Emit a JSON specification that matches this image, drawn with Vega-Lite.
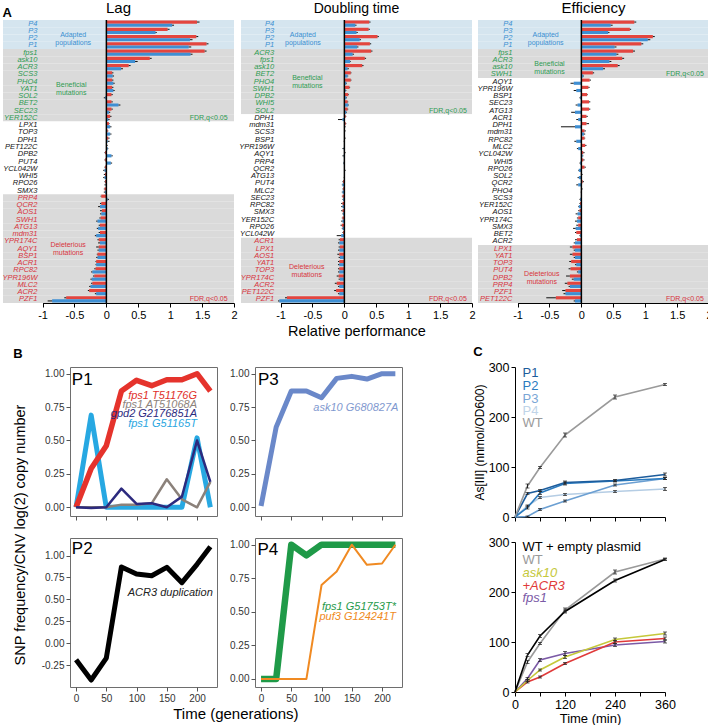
{
"$schema": "https://vega.github.io/schema/vega-lite/v6.json",
"padding": {"left": 2, "top": 1, "right": 0, "bottom": 0},
"background": "white",
"config": {
  "font": "Liberation Sans",
  "view": {"stroke": null},
  "axis": {"grid": false, "tickCount": 20, "labelOverlap": false, "labelColor": "#000", "titleColor": "#000", "domainColor": "#000", "tickColor": "#000", "titleFontWeight": "normal", "labelFont": "Liberation Sans", "titleFont": "Liberation Sans"},
  "title": {"fontWeight": "normal", "color": "#000", "font": "Liberation Sans"},
  "text": {"font": "Liberation Sans"}
},
"datasets": {
"a": [
{"p":"Lag","g":"P4","c":"A","r":1.42,"b":1.03,"er":1.46,"eb":1.06},
{"p":"Lag","g":"P3","c":"A","r":0.96,"b":0.77,"er":0.99,"eb":0.79},
{"p":"Lag","g":"P2","c":"A","r":1.41,"b":1.31,"er":1.44,"eb":1.35},
{"p":"Lag","g":"P1","c":"A","r":1.57,"b":1.29,"er":1.6,"eb":1.33},
{"p":"Lag","g":"fps1","c":"B","r":1.54,"b":1.32,"er":1.57,"eb":1.35},
{"p":"Lag","g":"ask10","c":"B","r":0.68,"b":0.45,"er":0.71,"eb":0.49},
{"p":"Lag","g":"ACR3","c":"B","r":0.35,"b":0.23,"er":0.38,"eb":0.26},
{"p":"Lag","g":"SCS3","c":"B","r":0.09,"b":0.1,"er":0.11,"eb":0.12},
{"p":"Lag","g":"PHO4","c":"B","r":0.09,"b":0.11,"er":0.11,"eb":0.13},
{"p":"Lag","g":"YAT1","c":"B","r":0.09,"b":0.11,"er":0.11,"eb":0.13},
{"p":"Lag","g":"SOL2","c":"B","r":0.08,"b":-0.02,"er":0.1,"eb":-0.04},
{"p":"Lag","g":"BET2","c":"B","r":0.08,"b":0.19,"er":0.1,"eb":0.22},
{"p":"Lag","g":"SEC23","c":"B","r":0.08,"b":0.04,"er":0.1,"eb":0.06},
{"p":"Lag","g":"YER152C","c":"B","r":0.06,"b":0.03,"er":0.08,"eb":0.05},
{"p":"Lag","g":"LPX1","c":"N","r":0.04,"b":0.06,"er":0.05,"eb":0.08},
{"p":"Lag","g":"TOP3","c":"N","r":0.02,"b":0.06,"er":0.03,"eb":0.08},
{"p":"Lag","g":"DPH1","c":"N","r":0.03,"b":0.02,"er":0.05,"eb":0.05},
{"p":"Lag","g":"PET122C","c":"N","r":0.01,"b":0.02,"er":0.02,"eb":0.03},
{"p":"Lag","g":"DPB2","c":"N","r":-0.02,"b":0.08,"er":-0.03,"eb":0.1},
{"p":"Lag","g":"PUT4","c":"N","r":-0.02,"b":0.07,"er":-0.03,"eb":0.09},
{"p":"Lag","g":"YCL042W","c":"N","r":-0.02,"b":-0.03,"er":-0.03,"eb":-0.05},
{"p":"Lag","g":"WHI5","c":"N","r":-0.02,"b":-0.03,"er":-0.04,"eb":-0.05},
{"p":"Lag","g":"RPO26","c":"N","r":-0.02,"b":-0.01,"er":-0.03,"eb":-0.03},
{"p":"Lag","g":"SMX3","c":"N","r":-0.03,"b":-0.02,"er":-0.04,"eb":-0.04},
{"p":"Lag","g":"PRP4","c":"D","r":-0.08,"b":0.02,"er":-0.09,"eb":0.04},
{"p":"Lag","g":"QCR2","c":"D","r":-0.08,"b":-0.1,"er":-0.1,"eb":-0.13},
{"p":"Lag","g":"AOS1","c":"D","r":-0.07,"b":-0.08,"er":-0.1,"eb":-0.1},
{"p":"Lag","g":"SWH1","c":"D","r":-0.09,"b":-0.14,"er":-0.11,"eb":-0.16},
{"p":"Lag","g":"ATG13","c":"D","r":-0.1,"b":-0.13,"er":-0.12,"eb":-0.15},
{"p":"Lag","g":"mdm31","c":"D","r":-0.1,"b":-0.16,"er":-0.12,"eb":-0.18},
{"p":"Lag","g":"YPR174C","c":"D","r":-0.12,"b":-0.1,"er":-0.14,"eb":-0.13},
{"p":"Lag","g":"AQY1","c":"D","r":-0.12,"b":-0.12,"er":-0.16,"eb":-0.14},
{"p":"Lag","g":"BSP1","c":"D","r":-0.14,"b":-0.14,"er":-0.15,"eb":-0.16},
{"p":"Lag","g":"ACR1","c":"D","r":-0.16,"b":-0.16,"er":-0.17,"eb":-0.17},
{"p":"Lag","g":"RPC82","c":"D","r":-0.17,"b":-0.22,"er":-0.19,"eb":-0.24},
{"p":"Lag","g":"YPR196W","c":"D","r":-0.19,"b":-0.23,"er":-0.21,"eb":-0.25},
{"p":"Lag","g":"MLC2","c":"D","r":-0.22,"b":-0.25,"er":-0.24,"eb":-0.27},
{"p":"Lag","g":"ACR2","c":"D","r":-0.27,"b":-0.16,"er":-0.29,"eb":-0.18},
{"p":"Lag","g":"PZF1","c":"D","r":-0.63,"b":-0.85,"er":-0.66,"eb":-0.92},
{"p":"Dbl","g":"P4","c":"A","r":0.39,"b":0.17,"er":0.41,"eb":0.19},
{"p":"Dbl","g":"P3","c":"A","r":0.38,"b":0.19,"er":0.4,"eb":0.21},
{"p":"Dbl","g":"P2","c":"A","r":0.52,"b":0.24,"er":0.54,"eb":0.26},
{"p":"Dbl","g":"P1","c":"A","r":0.4,"b":0.2,"er":0.42,"eb":0.22},
{"p":"Dbl","g":"ACR3","c":"B","r":0.42,"b":0.13,"er":0.44,"eb":0.15},
{"p":"Dbl","g":"fps1","c":"B","r":0.32,"b":0.09,"er":0.34,"eb":0.1},
{"p":"Dbl","g":"ask10","c":"B","r":0.28,"b":0.05,"er":0.3,"eb":0.07},
{"p":"Dbl","g":"BET2","c":"B","r":0.1,"b":0.05,"er":0.11,"eb":0.06},
{"p":"Dbl","g":"PHO4","c":"B","r":0.1,"b":0.03,"er":0.11,"eb":0.04},
{"p":"Dbl","g":"SWH1","c":"B","r":0.08,"b":0.02,"er":0.09,"eb":0.03},
{"p":"Dbl","g":"DPB2","c":"B","r":0.06,"b":0.03,"er":0.07,"eb":0.04},
{"p":"Dbl","g":"WHI5","c":"B","r":0.05,"b":0.06,"er":0.06,"eb":0.07},
{"p":"Dbl","g":"SOL2","c":"B","r":0.05,"b":0.03,"er":0.06,"eb":0.04},
{"p":"Dbl","g":"DPH1","c":"N","r":0.02,"b":-0.03,"er":0.03,"eb":-0.1},
{"p":"Dbl","g":"mdm31","c":"N","r":0.02,"b":0.01,"er":0.03,"eb":0.02},
{"p":"Dbl","g":"SCS3","c":"N","r":0.01,"b":0.0,"er":0.02,"eb":0.01},
{"p":"Dbl","g":"BSP1","c":"N","r":0.01,"b":0.0,"er":0.02,"eb":-0.01},
{"p":"Dbl","g":"YPR196W","c":"N","r":0.0,"b":-0.01,"er":0.01,"eb":-0.03},
{"p":"Dbl","g":"AQY1","c":"N","r":0.01,"b":-0.01,"er":0.02,"eb":-0.03},
{"p":"Dbl","g":"PRP4","c":"N","r":0.0,"b":-0.01,"er":0.01,"eb":-0.02},
{"p":"Dbl","g":"QCR2","c":"N","r":0.0,"b":0.01,"er":0.01,"eb":0.02},
{"p":"Dbl","g":"ATG13","c":"N","r":0.0,"b":0.0,"er":0.01,"eb":-0.01},
{"p":"Dbl","g":"PUT4","c":"N","r":-0.02,"b":-0.03,"er":-0.03,"eb":-0.04},
{"p":"Dbl","g":"MLC2","c":"N","r":-0.02,"b":-0.03,"er":-0.03,"eb":-0.04},
{"p":"Dbl","g":"SEC23","c":"N","r":-0.03,"b":-0.02,"er":-0.04,"eb":-0.03},
{"p":"Dbl","g":"RPC82","c":"N","r":-0.03,"b":-0.03,"er":-0.05,"eb":-0.05},
{"p":"Dbl","g":"SMX3","c":"N","r":-0.03,"b":-0.02,"er":-0.05,"eb":-0.03},
{"p":"Dbl","g":"YER152C","c":"N","r":-0.03,"b":-0.03,"er":-0.04,"eb":-0.05},
{"p":"Dbl","g":"RPO26","c":"N","r":-0.04,"b":-0.03,"er":-0.06,"eb":-0.04},
{"p":"Dbl","g":"YCL042W","c":"N","r":-0.02,"b":-0.05,"er":-0.03,"eb":-0.12},
{"p":"Dbl","g":"ACR1","c":"D","r":-0.07,"b":-0.08,"er":-0.09,"eb":-0.1},
{"p":"Dbl","g":"LPX1","c":"D","r":-0.07,"b":-0.08,"er":-0.09,"eb":-0.1},
{"p":"Dbl","g":"AOS1","c":"D","r":-0.08,"b":-0.07,"er":-0.11,"eb":-0.09},
{"p":"Dbl","g":"YAT1","c":"D","r":-0.08,"b":-0.08,"er":-0.1,"eb":-0.1},
{"p":"Dbl","g":"TOP3","c":"D","r":-0.08,"b":-0.08,"er":-0.1,"eb":-0.1},
{"p":"Dbl","g":"YPR174C","c":"D","r":-0.09,"b":-0.07,"er":-0.12,"eb":-0.09},
{"p":"Dbl","g":"ACR2","c":"D","r":-0.12,"b":-0.08,"er":-0.15,"eb":-0.1},
{"p":"Dbl","g":"PET122C","c":"D","r":-0.13,"b":-0.08,"er":-0.16,"eb":-0.1},
{"p":"Dbl","g":"PZF1","c":"D","r":-0.9,"b":-1.02,"er":-0.93,"eb":-1.04},
{"p":"Eff","g":"P4","c":"A","r":0.83,"b":0.46,"er":0.86,"eb":0.49},
{"p":"Eff","g":"P3","c":"A","r":0.76,"b":0.42,"er":0.78,"eb":0.44},
{"p":"Eff","g":"P2","c":"A","r":1.12,"b":1.04,"er":1.15,"eb":1.08},
{"p":"Eff","g":"P1","c":"A","r":0.94,"b":0.52,"er":0.97,"eb":0.55},
{"p":"Eff","g":"fps1","c":"B","r":0.81,"b":0.55,"er":0.84,"eb":0.58},
{"p":"Eff","g":"ACR3","c":"B","r":0.64,"b":0.44,"er":0.67,"eb":0.47},
{"p":"Eff","g":"ask10","c":"B","r":0.57,"b":0.34,"er":0.6,"eb":0.37},
{"p":"Eff","g":"SWH1","c":"B","r":0.18,"b":0.03,"er":0.2,"eb":0.04},
{"p":"Eff","g":"AQY1","c":"N","r":0.13,"b":-0.12,"er":0.15,"eb":-0.17},
{"p":"Eff","g":"YPR196W","c":"N","r":0.11,"b":-0.08,"er":0.13,"eb":-0.12},
{"p":"Eff","g":"BSP1","c":"N","r":0.09,"b":-0.02,"er":0.1,"eb":-0.03},
{"p":"Eff","g":"SEC23","c":"N","r":0.12,"b":-0.06,"er":0.14,"eb":-0.09},
{"p":"Eff","g":"ATG13","c":"N","r":0.12,"b":-0.1,"er":0.14,"eb":-0.16},
{"p":"Eff","g":"ACR1","c":"N","r":0.08,"b":-0.05,"er":0.1,"eb":-0.08},
{"p":"Eff","g":"DPH1","c":"N","r":0.08,"b":-0.1,"er":0.12,"eb":-0.32},
{"p":"Eff","g":"mdm31","c":"N","r":0.05,"b":0.04,"er":0.07,"eb":0.06},
{"p":"Eff","g":"RPC82","c":"N","r":0.05,"b":-0.08,"er":0.06,"eb":-0.11},
{"p":"Eff","g":"MLC2","c":"N","r":0.06,"b":-0.05,"er":0.08,"eb":-0.07},
{"p":"Eff","g":"YCL042W","c":"N","r":0.03,"b":0.02,"er":0.05,"eb":0.03},
{"p":"Eff","g":"WHI5","c":"N","r":0.03,"b":-0.02,"er":0.05,"eb":-0.03},
{"p":"Eff","g":"RPO26","c":"N","r":0.05,"b":-0.04,"er":0.07,"eb":-0.05},
{"p":"Eff","g":"SOL2","c":"N","r":0.01,"b":-0.04,"er":0.02,"eb":-0.06},
{"p":"Eff","g":"QCR2","c":"N","r":0.02,"b":-0.05,"er":0.04,"eb":-0.08},
{"p":"Eff","g":"PHO4","c":"N","r":0.01,"b":0.0,"er":0.02,"eb":-0.01},
{"p":"Eff","g":"SCS3","c":"N","r":0.0,"b":-0.02,"er":0.01,"eb":-0.03},
{"p":"Eff","g":"YER152C","c":"N","r":-0.02,"b":-0.04,"er":-0.03,"eb":-0.05},
{"p":"Eff","g":"AOS1","c":"N","r":-0.03,"b":-0.06,"er":-0.05,"eb":-0.09},
{"p":"Eff","g":"YPR174C","c":"N","r":-0.05,"b":-0.07,"er":-0.07,"eb":-0.1},
{"p":"Eff","g":"SMX3","c":"N","r":-0.05,"b":-0.09,"er":-0.08,"eb":-0.13},
{"p":"Eff","g":"BET2","c":"N","r":-0.08,"b":-0.02,"er":-0.1,"eb":-0.03},
{"p":"Eff","g":"ACR2","c":"N","r":-0.07,"b":-0.1,"er":-0.1,"eb":-0.12},
{"p":"Eff","g":"LPX1","c":"D","r":-0.14,"b":-0.1,"er":-0.18,"eb":-0.12},
{"p":"Eff","g":"YAT1","c":"D","r":-0.14,"b":-0.1,"er":-0.18,"eb":-0.12},
{"p":"Eff","g":"TOP3","c":"D","r":-0.16,"b":-0.08,"er":-0.19,"eb":-0.1},
{"p":"Eff","g":"PUT4","c":"D","r":-0.17,"b":-0.05,"er":-0.2,"eb":-0.07},
{"p":"Eff","g":"DPB2","c":"D","r":-0.18,"b":-0.12,"er":-0.24,"eb":-0.15},
{"p":"Eff","g":"PRP4","c":"D","r":-0.22,"b":-0.18,"er":-0.26,"eb":-0.2},
{"p":"Eff","g":"PZF1","c":"D","r":-0.25,"b":-0.25,"er":-0.3,"eb":-0.28},
{"p":"Eff","g":"PET122C","c":"D","r":-0.4,"b":-0.1,"er":-0.55,"eb":-0.12}
],
"b": [
{"p":"P1","s":"fps1 T51176G","t":0,"v":0},{"p":"P1","s":"fps1 T51176G","t":25,"v":0.29},{"p":"P1","s":"fps1 T51176G","t":50,"v":0.46},{"p":"P1","s":"fps1 T51176G","t":75,"v":0.87},{"p":"P1","s":"fps1 T51176G","t":100,"v":0.95},{"p":"P1","s":"fps1 T51176G","t":125,"v":0.91},{"p":"P1","s":"fps1 T51176G","t":150,"v":0.955},{"p":"P1","s":"fps1 T51176G","t":175,"v":0.955},{"p":"P1","s":"fps1 T51176G","t":200,"v":1.0},{"p":"P1","s":"fps1 T51176G","t":222,"v":0.87},
{"p":"P1","s":"fps1 G51165T","t":0,"v":0},{"p":"P1","s":"fps1 G51165T","t":25,"v":0.69},{"p":"P1","s":"fps1 G51165T","t":50,"v":0},{"p":"P1","s":"fps1 G51165T","t":75,"v":0},{"p":"P1","s":"fps1 G51165T","t":100,"v":0},{"p":"P1","s":"fps1 G51165T","t":125,"v":0},{"p":"P1","s":"fps1 G51165T","t":150,"v":0},{"p":"P1","s":"fps1 G51165T","t":175,"v":0},{"p":"P1","s":"fps1 G51165T","t":200,"v":0.52},{"p":"P1","s":"fps1 G51165T","t":222,"v":0},
{"p":"P1","s":"fps1 AT51068A","t":0,"v":0},{"p":"P1","s":"fps1 AT51068A","t":25,"v":0},{"p":"P1","s":"fps1 AT51068A","t":50,"v":0},{"p":"P1","s":"fps1 AT51068A","t":75,"v":0.02},{"p":"P1","s":"fps1 AT51068A","t":100,"v":0.02},{"p":"P1","s":"fps1 AT51068A","t":125,"v":0.03},{"p":"P1","s":"fps1 AT51068A","t":150,"v":0.21},{"p":"P1","s":"fps1 AT51068A","t":175,"v":0.06},{"p":"P1","s":"fps1 AT51068A","t":200,"v":0},{"p":"P1","s":"fps1 AT51068A","t":222,"v":0.19},
{"p":"P1","s":"gpd2 G2176851A","t":0,"v":0},{"p":"P1","s":"gpd2 G2176851A","t":25,"v":-0.005},{"p":"P1","s":"gpd2 G2176851A","t":50,"v":0},{"p":"P1","s":"gpd2 G2176851A","t":75,"v":0.14},{"p":"P1","s":"gpd2 G2176851A","t":100,"v":0.025},{"p":"P1","s":"gpd2 G2176851A","t":125,"v":0.03},{"p":"P1","s":"gpd2 G2176851A","t":150,"v":0},{"p":"P1","s":"gpd2 G2176851A","t":175,"v":0.08},{"p":"P1","s":"gpd2 G2176851A","t":200,"v":0.5},{"p":"P1","s":"gpd2 G2176851A","t":222,"v":0.19},
{"p":"P3","s":"ask10 G680827A","t":0,"v":0.01},{"p":"P3","s":"ask10 G680827A","t":25,"v":0.6},{"p":"P3","s":"ask10 G680827A","t":50,"v":0.87},{"p":"P3","s":"ask10 G680827A","t":75,"v":0.87},{"p":"P3","s":"ask10 G680827A","t":100,"v":0.82},{"p":"P3","s":"ask10 G680827A","t":125,"v":0.965},{"p":"P3","s":"ask10 G680827A","t":150,"v":0.98},{"p":"P3","s":"ask10 G680827A","t":175,"v":0.96},{"p":"P3","s":"ask10 G680827A","t":200,"v":1.0},{"p":"P3","s":"ask10 G680827A","t":222,"v":1.0},
{"p":"P2","s":"ACR3 duplication","t":0,"v":-0.19},{"p":"P2","s":"ACR3 duplication","t":25,"v":-0.42},{"p":"P2","s":"ACR3 duplication","t":50,"v":-0.17},{"p":"P2","s":"ACR3 duplication","t":75,"v":0.87},{"p":"P2","s":"ACR3 duplication","t":100,"v":0.79},{"p":"P2","s":"ACR3 duplication","t":125,"v":0.77},{"p":"P2","s":"ACR3 duplication","t":150,"v":0.865},{"p":"P2","s":"ACR3 duplication","t":175,"v":0.69},{"p":"P2","s":"ACR3 duplication","t":200,"v":0.9},{"p":"P2","s":"ACR3 duplication","t":222,"v":1.1},
{"p":"P4","s":"fps1 G51753T*","t":0,"v":0},{"p":"P4","s":"fps1 G51753T*","t":25,"v":0},{"p":"P4","s":"fps1 G51753T*","t":50,"v":1.0},{"p":"P4","s":"fps1 G51753T*","t":75,"v":0.92},{"p":"P4","s":"fps1 G51753T*","t":100,"v":1.0},{"p":"P4","s":"fps1 G51753T*","t":125,"v":1.0},{"p":"P4","s":"fps1 G51753T*","t":150,"v":1.0},{"p":"P4","s":"fps1 G51753T*","t":175,"v":1.0},{"p":"P4","s":"fps1 G51753T*","t":200,"v":1.0},{"p":"P4","s":"fps1 G51753T*","t":222,"v":1.0},
{"p":"P4","s":"puf3 G124241T","t":0,"v":0},{"p":"P4","s":"puf3 G124241T","t":25,"v":0},{"p":"P4","s":"puf3 G124241T","t":50,"v":0},{"p":"P4","s":"puf3 G124241T","t":75,"v":0},{"p":"P4","s":"puf3 G124241T","t":100,"v":0.7},{"p":"P4","s":"puf3 G124241T","t":125,"v":0.8},{"p":"P4","s":"puf3 G124241T","t":150,"v":1.0},{"p":"P4","s":"puf3 G124241T","t":175,"v":0.85},{"p":"P4","s":"puf3 G124241T","t":200,"v":0.86},{"p":"P4","s":"puf3 G124241T","t":222,"v":1.0}
],
"c": [
{"p":"C1","s":"WT","t":0,"v":0,"e":0},{"p":"C1","s":"WT","t":30,"v":62,"e":4},{"p":"C1","s":"WT","t":60,"v":99,"e":2},{"p":"C1","s":"WT","t":120,"v":164,"e":4},{"p":"C1","s":"WT","t":240,"v":240,"e":4},{"p":"C1","s":"WT","t":360,"v":265,"e":2},
{"p":"C1","s":"P1","t":0,"v":0,"e":0},{"p":"C1","s":"P1","t":30,"v":47,"e":2},{"p":"C1","s":"P1","t":60,"v":53,"e":2},{"p":"C1","s":"P1","t":120,"v":69,"e":3},{"p":"C1","s":"P1","t":240,"v":73,"e":2},{"p":"C1","s":"P1","t":360,"v":85,"e":3},
{"p":"C1","s":"P2","t":0,"v":0,"e":0},{"p":"C1","s":"P2","t":30,"v":19,"e":3},{"p":"C1","s":"P2","t":60,"v":48,"e":3},{"p":"C1","s":"P2","t":120,"v":67,"e":3},{"p":"C1","s":"P2","t":240,"v":72,"e":2},{"p":"C1","s":"P2","t":360,"v":77,"e":2},
{"p":"C1","s":"P3","t":0,"v":0,"e":0},{"p":"C1","s":"P3","t":30,"v":1,"e":1},{"p":"C1","s":"P3","t":60,"v":15,"e":2},{"p":"C1","s":"P3","t":120,"v":32,"e":2},{"p":"C1","s":"P3","t":240,"v":64,"e":2},{"p":"C1","s":"P3","t":360,"v":77,"e":2},
{"p":"C1","s":"P4","t":0,"v":0,"e":0},{"p":"C1","s":"P4","t":30,"v":22,"e":2},{"p":"C1","s":"P4","t":60,"v":39,"e":2},{"p":"C1","s":"P4","t":120,"v":45,"e":2},{"p":"C1","s":"P4","t":240,"v":51,"e":2},{"p":"C1","s":"P4","t":360,"v":56,"e":3},
{"p":"C2","s":"WT + empty plasmid","t":0,"v":0,"e":0},{"p":"C2","s":"WT + empty plasmid","t":30,"v":74,"e":3},{"p":"C2","s":"WT + empty plasmid","t":60,"v":112,"e":3},{"p":"C2","s":"WT + empty plasmid","t":120,"v":161,"e":3},{"p":"C2","s":"WT + empty plasmid","t":240,"v":223,"e":3},{"p":"C2","s":"WT + empty plasmid","t":360,"v":265,"e":2},
{"p":"C2","s":"WT","t":0,"v":0,"e":0},{"p":"C2","s":"WT","t":30,"v":60,"e":3},{"p":"C2","s":"WT","t":60,"v":97,"e":2},{"p":"C2","s":"WT","t":120,"v":164,"e":4},{"p":"C2","s":"WT","t":240,"v":240,"e":4},{"p":"C2","s":"WT","t":360,"v":266,"e":2},
{"p":"C2","s":"ask10","t":0,"v":0,"e":0},{"p":"C2","s":"ask10","t":30,"v":23,"e":2},{"p":"C2","s":"ask10","t":60,"v":44,"e":2},{"p":"C2","s":"ask10","t":120,"v":70,"e":3},{"p":"C2","s":"ask10","t":240,"v":105,"e":3},{"p":"C2","s":"ask10","t":360,"v":117,"e":3},
{"p":"C2","s":"+ACR3","t":0,"v":0,"e":0},{"p":"C2","s":"+ACR3","t":30,"v":20,"e":2},{"p":"C2","s":"+ACR3","t":60,"v":30,"e":2},{"p":"C2","s":"+ACR3","t":120,"v":57,"e":2},{"p":"C2","s":"+ACR3","t":240,"v":100,"e":3},{"p":"C2","s":"+ACR3","t":360,"v":107,"e":3},
{"p":"C2","s":"fps1","t":0,"v":0,"e":0},{"p":"C2","s":"fps1","t":30,"v":27,"e":2},{"p":"C2","s":"fps1","t":60,"v":64,"e":3},{"p":"C2","s":"fps1","t":120,"v":77,"e":4},{"p":"C2","s":"fps1","t":240,"v":94,"e":3},{"p":"C2","s":"fps1","t":360,"v":101,"e":3}
]
},
"spacing": 8,
"vconcat": [
{
 "title": {"text": "A", "anchor": "start", "fontSize": 13, "fontWeight": "bold", "offset": -19},
 "spacing": 1,
 "hconcat": [
  {
   "width": 231, "height": 283,
   "title": {"text": "Lag", "fontSize": 15, "offset": 3},
   "data": {"name": "a"},
   "transform": [{"filter": "datum.p=='Lag'"}],
   "layer": [
    {"mark": {"type": "rect"}, "encoding": {
      "y": {"field": "g", "type": "nominal", "sort": null, "axis": null, "scale": {"paddingInner": 0, "paddingOuter": 0}},
      "x": {"datum": -1.62},
      "x2": {"datum": 2},
      "fill": {"field": "c", "type": "nominal", "scale": {"domain": ["A", "B", "N", "D"], "range": ["#d5e5ef", "#dadada", "#ffffff", "#dadada"]}, "legend": null}}},
    {"mark": {"type": "bar", "color": "#e3453f"}, "encoding": {
      "y": {"field": "g", "type": "nominal", "sort": null, "axis": null, "scale": {"paddingInner": 0, "paddingOuter": 0}},
      "yOffset": {"datum": "r", "scale": {"domain": ["r", "b"], "paddingInner": 0, "paddingOuter": 0.15}},
      "x": {"field": "r", "type": "quantitative", "scale": {"domain": [-1.62, 2], "nice": false, "zero": false}, "axis": {"values": [-1, -0.5, 0, 0.5, 1, 1.5, 2], "tickCount": 20, "labelExpr": "'' + datum.value", "labelFontSize": 11, "labelFlush": false, "labelOverlap": false, "tickSize": 4, "labelPadding": 2, "domainDash": [0, 39.6, 400, 0], "title": null}}}},
    {"mark": {"type": "bar", "color": "#3f8fd3"}, "encoding": {
      "y": {"field": "g", "type": "nominal", "sort": null, "axis": null, "scale": {"paddingInner": 0, "paddingOuter": 0}},
      "yOffset": {"datum": "b", "scale": {"domain": ["r", "b"], "paddingInner": 0, "paddingOuter": 0.15}},
      "x": {"field": "b", "type": "quantitative"}}},
    {"mark": {"type": "rule", "color": "#111", "strokeWidth": 1}, "encoding": {
      "y": {"field": "g", "type": "nominal", "sort": null, "axis": null, "scale": {"paddingInner": 0, "paddingOuter": 0}},
      "yOffset": {"datum": "r", "scale": {"domain": ["r", "b"], "paddingInner": 0, "paddingOuter": 0.15}},
      "x": {"field": "r", "type": "quantitative"}, "x2": {"field": "er"}}},
    {"mark": {"type": "rule", "color": "#111", "strokeWidth": 1}, "encoding": {
      "y": {"field": "g", "type": "nominal", "sort": null, "axis": null, "scale": {"paddingInner": 0, "paddingOuter": 0}},
      "yOffset": {"datum": "b", "scale": {"domain": ["r", "b"], "paddingInner": 0, "paddingOuter": 0.15}},
      "x": {"field": "b", "type": "quantitative"}, "x2": {"field": "eb"}}},
    {"data": {"values": [{"p": "Lag"}]}, "mark": {"type": "rule", "color": "#000", "strokeWidth": 1.5}, "encoding": {"x": {"datum": 0}}},
    {"mark": {"type": "text", "align": "right", "baseline": "middle", "fontStyle": "italic", "fontSize": 7.5}, "encoding": {
      "y": {"field": "g", "type": "nominal", "sort": null, "axis": null, "scale": {"paddingInner": 0, "paddingOuter": 0}},
      "x": {"datum": -1.08}, "text": {"field": "g"},
      "color": {"field": "c", "type": "nominal", "scale": {"domain": ["A", "B", "N", "D"], "range": ["#3a8fd1", "#2e9a52", "#111111", "#d8343d"]}, "legend": null}}},
    {"data": {"values": [{"p": "Lag"}]}, "mark": {"type": "text", "align": "center", "baseline": "middle", "fontSize": 7, "lineHeight": 8, "color": "#3a8fd1"}, "encoding": {"x": {"datum": -0.52}, "y": {"datum": "P3", "bandPosition": 1, "axis": null}, "text": {"value": ["Adapted", "populations"]}}},
    {"data": {"values": [{"p": "Lag"}]}, "mark": {"type": "text", "align": "center", "baseline": "middle", "fontSize": 7, "lineHeight": 8, "color": "#2e9a52"}, "encoding": {"x": {"datum": -0.55}, "y": {"datum": "PHO4", "bandPosition": 1, "axis": null}, "text": {"value": ["Beneficial", "mutations"]}}},
    {"data": {"values": [{"p": "Lag"}]}, "mark": {"type": "text", "align": "right", "baseline": "middle", "fontSize": 7, "color": "#2e9a52"}, "encoding": {"x": {"datum": 1.9}, "y": {"datum": "YER152C", "axis": null}, "text": {"value": "FDR,q<0.05"}}},
    {"data": {"values": [{"p": "Lag"}]}, "mark": {"type": "text", "align": "center", "baseline": "middle", "fontSize": 7, "lineHeight": 8, "color": "#d8343d"}, "encoding": {"x": {"datum": -0.6}, "y": {"datum": "YPR174C", "bandPosition": 1, "axis": null}, "text": {"value": ["Deleterious", "mutations"]}}},
    {"data": {"values": [{"p": "Lag"}]}, "mark": {"type": "text", "align": "right", "baseline": "middle", "fontSize": 7, "color": "#d8343d"}, "encoding": {"x": {"datum": 1.9}, "y": {"datum": "PZF1", "axis": null}, "text": {"value": "FDR,q<0.05"}}}
   ]
  },
  {
   "width": 231, "height": 283,
   "title": {"text": "Doubling time", "fontSize": 14, "offset": 3},
   "data": {"name": "a"},
   "transform": [{"filter": "datum.p=='Dbl'"}],
   "layer": [
    {"mark": {"type": "rect"}, "encoding": {
      "y": {"field": "g", "type": "nominal", "sort": null, "axis": null, "scale": {"paddingInner": 0, "paddingOuter": 0}},
      "x": {"datum": -1.62},
      "x2": {"datum": 2},
      "fill": {"field": "c", "type": "nominal", "scale": {"domain": ["A", "B", "N", "D"], "range": ["#d5e5ef", "#dadada", "#ffffff", "#dadada"]}, "legend": null}}},
    {"mark": {"type": "bar", "color": "#e3453f"}, "encoding": {
      "y": {"field": "g", "type": "nominal", "sort": null, "axis": null, "scale": {"paddingInner": 0, "paddingOuter": 0}},
      "yOffset": {"datum": "r", "scale": {"domain": ["r", "b"], "paddingInner": 0, "paddingOuter": 0.15}},
      "x": {"field": "r", "type": "quantitative", "scale": {"domain": [-1.62, 2], "nice": false, "zero": false}, "axis": {"values": [-1, -0.5, 0, 0.5, 1, 1.5, 2], "tickCount": 20, "labelExpr": "'' + datum.value", "labelFontSize": 11, "labelFlush": false, "labelOverlap": false, "tickSize": 4, "labelPadding": 2, "domainDash": [0, 39.6, 400, 0], "title": "Relative performance", "titleFontSize": 14.5, "titlePadding": 4}}}},
    {"mark": {"type": "bar", "color": "#3f8fd3"}, "encoding": {
      "y": {"field": "g", "type": "nominal", "sort": null, "axis": null, "scale": {"paddingInner": 0, "paddingOuter": 0}},
      "yOffset": {"datum": "b", "scale": {"domain": ["r", "b"], "paddingInner": 0, "paddingOuter": 0.15}},
      "x": {"field": "b", "type": "quantitative"}}},
    {"mark": {"type": "rule", "color": "#111", "strokeWidth": 1}, "encoding": {
      "y": {"field": "g", "type": "nominal", "sort": null, "axis": null, "scale": {"paddingInner": 0, "paddingOuter": 0}},
      "yOffset": {"datum": "r", "scale": {"domain": ["r", "b"], "paddingInner": 0, "paddingOuter": 0.15}},
      "x": {"field": "r", "type": "quantitative"}, "x2": {"field": "er"}}},
    {"mark": {"type": "rule", "color": "#111", "strokeWidth": 1}, "encoding": {
      "y": {"field": "g", "type": "nominal", "sort": null, "axis": null, "scale": {"paddingInner": 0, "paddingOuter": 0}},
      "yOffset": {"datum": "b", "scale": {"domain": ["r", "b"], "paddingInner": 0, "paddingOuter": 0.15}},
      "x": {"field": "b", "type": "quantitative"}, "x2": {"field": "eb"}}},
    {"data": {"values": [{"p": "Dbl"}]}, "mark": {"type": "rule", "color": "#000", "strokeWidth": 1.5}, "encoding": {"x": {"datum": 0}}},
    {"mark": {"type": "text", "align": "right", "baseline": "middle", "fontStyle": "italic", "fontSize": 7.5}, "encoding": {
      "y": {"field": "g", "type": "nominal", "sort": null, "axis": null, "scale": {"paddingInner": 0, "paddingOuter": 0}},
      "x": {"datum": -1.1}, "text": {"field": "g"},
      "color": {"field": "c", "type": "nominal", "scale": {"domain": ["A", "B", "N", "D"], "range": ["#3a8fd1", "#2e9a52", "#111111", "#d8343d"]}, "legend": null}}},
    {"data": {"values": [{"p": "Dbl"}]}, "mark": {"type": "text", "align": "center", "baseline": "middle", "fontSize": 7, "lineHeight": 8, "color": "#3a8fd1"}, "encoding": {"x": {"datum": -0.65}, "y": {"datum": "P3", "bandPosition": 1, "axis": null}, "text": {"value": ["Adapted", "populations"]}}},
    {"data": {"values": [{"p": "Dbl"}]}, "mark": {"type": "text", "align": "center", "baseline": "middle", "fontSize": 7, "lineHeight": 8, "color": "#2e9a52"}, "encoding": {"x": {"datum": -0.58}, "y": {"datum": "BET2", "bandPosition": 1, "axis": null}, "text": {"value": ["Beneficial", "mutations"]}}},
    {"data": {"values": [{"p": "Dbl"}]}, "mark": {"type": "text", "align": "right", "baseline": "middle", "fontSize": 7, "color": "#2e9a52"}, "encoding": {"x": {"datum": 1.92}, "y": {"datum": "SOL2", "axis": null}, "text": {"value": "FDR,q<0.05"}}},
    {"data": {"values": [{"p": "Dbl"}]}, "mark": {"type": "text", "align": "center", "baseline": "middle", "fontSize": 7, "lineHeight": 8, "color": "#d8343d"}, "encoding": {"x": {"datum": -0.59}, "y": {"datum": "YAT1", "bandPosition": 1, "axis": null}, "text": {"value": ["Deleterious", "mutations"]}}},
    {"data": {"values": [{"p": "Dbl"}]}, "mark": {"type": "text", "align": "right", "baseline": "middle", "fontSize": 7, "color": "#d8343d"}, "encoding": {"x": {"datum": 1.92}, "y": {"datum": "PZF1", "axis": null}, "text": {"value": "FDR,q<0.05"}}}
   ]
  },
  {
   "width": 231, "height": 283,
   "title": {"text": "Efficiency", "fontSize": 15, "offset": 3},
   "data": {"name": "a"},
   "transform": [{"filter": "datum.p=='Eff'"}],
   "layer": [
    {"mark": {"type": "rect"}, "encoding": {
      "y": {"field": "g", "type": "nominal", "sort": null, "axis": null, "scale": {"paddingInner": 0, "paddingOuter": 0}},
      "x": {"datum": -1.62},
      "x2": {"datum": 2},
      "fill": {"field": "c", "type": "nominal", "scale": {"domain": ["A", "B", "N", "D"], "range": ["#d5e5ef", "#dadada", "#ffffff", "#dadada"]}, "legend": null}}},
    {"mark": {"type": "bar", "color": "#e3453f"}, "encoding": {
      "y": {"field": "g", "type": "nominal", "sort": null, "axis": null, "scale": {"paddingInner": 0, "paddingOuter": 0}},
      "yOffset": {"datum": "r", "scale": {"domain": ["r", "b"], "paddingInner": 0, "paddingOuter": 0.15}},
      "x": {"field": "r", "type": "quantitative", "scale": {"domain": [-1.62, 2], "nice": false, "zero": false}, "axis": {"values": [-1, -0.5, 0, 0.5, 1, 1.5, 2], "tickCount": 20, "labelExpr": "'' + datum.value", "labelFontSize": 11, "labelFlush": false, "labelOverlap": false, "tickSize": 4, "labelPadding": 2, "domainDash": [0, 39.6, 400, 0], "title": null}}}},
    {"mark": {"type": "bar", "color": "#3f8fd3"}, "encoding": {
      "y": {"field": "g", "type": "nominal", "sort": null, "axis": null, "scale": {"paddingInner": 0, "paddingOuter": 0}},
      "yOffset": {"datum": "b", "scale": {"domain": ["r", "b"], "paddingInner": 0, "paddingOuter": 0.15}},
      "x": {"field": "b", "type": "quantitative"}}},
    {"mark": {"type": "rule", "color": "#111", "strokeWidth": 1}, "encoding": {
      "y": {"field": "g", "type": "nominal", "sort": null, "axis": null, "scale": {"paddingInner": 0, "paddingOuter": 0}},
      "yOffset": {"datum": "r", "scale": {"domain": ["r", "b"], "paddingInner": 0, "paddingOuter": 0.15}},
      "x": {"field": "r", "type": "quantitative"}, "x2": {"field": "er"}}},
    {"mark": {"type": "rule", "color": "#111", "strokeWidth": 1}, "encoding": {
      "y": {"field": "g", "type": "nominal", "sort": null, "axis": null, "scale": {"paddingInner": 0, "paddingOuter": 0}},
      "yOffset": {"datum": "b", "scale": {"domain": ["r", "b"], "paddingInner": 0, "paddingOuter": 0.15}},
      "x": {"field": "b", "type": "quantitative"}, "x2": {"field": "eb"}}},
    {"data": {"values": [{"p": "Eff"}]}, "mark": {"type": "rule", "color": "#000", "strokeWidth": 1.5}, "encoding": {"x": {"datum": 0}}},
    {"mark": {"type": "text", "align": "right", "baseline": "middle", "fontStyle": "italic", "fontSize": 7.5}, "encoding": {
      "y": {"field": "g", "type": "nominal", "sort": null, "axis": null, "scale": {"paddingInner": 0, "paddingOuter": 0}},
      "x": {"datum": -1.08}, "text": {"field": "g"},
      "color": {"field": "c", "type": "nominal", "scale": {"domain": ["A", "B", "N", "D"], "range": ["#3a8fd1", "#2e9a52", "#111111", "#d8343d"]}, "legend": null}}},
    {"data": {"values": [{"p": "Eff"}]}, "mark": {"type": "text", "align": "center", "baseline": "middle", "fontSize": 7, "lineHeight": 8, "color": "#3a8fd1"}, "encoding": {"x": {"datum": -0.56}, "y": {"datum": "P3", "bandPosition": 1, "axis": null}, "text": {"value": ["Adapted", "populations"]}}},
    {"data": {"values": [{"p": "Eff"}]}, "mark": {"type": "text", "align": "center", "baseline": "middle", "fontSize": 7, "lineHeight": 8, "color": "#2e9a52"}, "encoding": {"x": {"datum": -0.5}, "y": {"datum": "ACR3", "bandPosition": 1, "axis": null}, "text": {"value": ["Beneficial", "mutations"]}}},
    {"data": {"values": [{"p": "Eff"}]}, "mark": {"type": "text", "align": "right", "baseline": "middle", "fontSize": 7, "color": "#2e9a52"}, "encoding": {"x": {"datum": 1.92}, "y": {"datum": "SWH1", "axis": null}, "text": {"value": "FDR,q<0.05"}}},
    {"data": {"values": [{"p": "Eff"}]}, "mark": {"type": "text", "align": "center", "baseline": "middle", "fontSize": 7, "lineHeight": 8, "color": "#d8343d"}, "encoding": {"x": {"datum": -0.62}, "y": {"datum": "PUT4", "bandPosition": 1, "axis": null}, "text": {"value": ["Deleterious", "mutations"]}}},
    {"data": {"values": [{"p": "Eff"}]}, "mark": {"type": "text", "align": "right", "baseline": "middle", "fontSize": 7, "color": "#d8343d"}, "encoding": {"x": {"datum": 1.92}, "y": {"datum": "PET122C", "axis": null}, "text": {"value": "FDR,q<0.05"}}}
   ]
  }
 ]
},
{
 "spacing": 9,
 "hconcat": [
  {"width": 1, "height": 1, "data": {"values": [{}]}, "mark": {"type": "text"}, "encoding": {"text": {"value": ""}}},
  {
   "spacing": 70,
   "hconcat": [
    {
     "title": {"text": "B", "anchor": "start", "fontSize": 13, "fontWeight": "bold", "offset": 6},
     "vconcat": [
      {
       "title": {"text": "Time (generations)", "orient": "bottom", "anchor": "middle", "frame": "bounds", "dx": 28, "fontSize": 15, "offset": 3},
       "vconcat": [
        {
         "title": {"text": "SNP frequency/CNV log(2) copy number", "orient": "left", "anchor": "middle", "fontSize": 14.5, "offset": 12},
         "columns": 2,
         "spacing": {"row": 16, "column": 11},
         "concat": [
          {
           "width": 147, "height": 149,
           "view": {"stroke": "#6e6e6e"},
           "data": {"name": "b"},
           "layer": [
            {"transform": [{"filter": "datum.s=='fps1 G51165T'"}], "mark": {"type": "line", "color": "#27a8e2", "strokeWidth": 5, "strokeJoin": "round"}, "encoding": {
              "x": {"field": "t", "type": "quantitative", "scale": {"domain": [-10, 233], "nice": false, "zero": false}, "axis": {"values": [0, 50, 100, 150, 200], "tickCount": 20, "labels": false, "tickSize": 4, "tickColor": "#555", "domain": false, "title": null}},
              "y": {"field": "v", "type": "quantitative", "scale": {"domain": [-0.065, 1.05], "nice": false, "zero": false}, "axis": {"values": [0, 0.25, 0.5, 0.75, 1], "tickCount": 20, "labelOverlap": false, "labelExpr": "replace(format(datum.value, '.2f'), '\u2212', '-')", "labelFontSize": 10, "labelColor": "#333", "tickSize": 4, "tickColor": "#555", "domain": false, "title": null, "labelPadding": 2}}}},
            {"transform": [{"filter": "datum.s=='fps1 T51176G'"}], "mark": {"type": "line", "color": "#e5332c", "strokeWidth": 5.5, "strokeJoin": "round"}, "encoding": {"x": {"field": "t", "type": "quantitative"}, "y": {"field": "v", "type": "quantitative"}}},
            {"transform": [{"filter": "datum.s=='fps1 AT51068A'"}], "mark": {"type": "line", "color": "#8b817a", "strokeWidth": 2.5, "strokeJoin": "round"}, "encoding": {"x": {"field": "t", "type": "quantitative"}, "y": {"field": "v", "type": "quantitative"}}},
            {"transform": [{"filter": "datum.s=='gpd2 G2176851A'"}], "mark": {"type": "line", "color": "#2c2a7e", "strokeWidth": 2.5, "strokeJoin": "round"}, "encoding": {"x": {"field": "t", "type": "quantitative"}, "y": {"field": "v", "type": "quantitative"}}},
            {"data": {"values": [{"p": "P1"}]}, "mark": {"type": "text", "align": "left", "baseline": "middle", "fontSize": 17}, "encoding": {"x": {"datum": -7}, "y": {"datum": 0.95}, "text": {"value": "P1"}}},
            {"data": {"values": [{"p": "P1"}]}, "mark": {"type": "text", "align": "right", "baseline": "middle", "fontSize": 11, "fontStyle": "italic", "color": "#e0302a"}, "encoding": {"x": {"datum": 200}, "y": {"datum": 0.83}, "text": {"value": "fps1 T51176G"}}},
            {"data": {"values": [{"p": "P1"}]}, "mark": {"type": "text", "align": "right", "baseline": "middle", "fontSize": 11, "fontStyle": "italic", "color": "#8d837c"}, "encoding": {"x": {"datum": 200}, "y": {"datum": 0.765}, "text": {"value": "fps1 AT51068A"}}},
            {"data": {"values": [{"p": "P1"}]}, "mark": {"type": "text", "align": "right", "baseline": "middle", "fontSize": 11, "fontStyle": "italic", "color": "#2c2a7e"}, "encoding": {"x": {"datum": 200}, "y": {"datum": 0.695}, "text": {"value": "gpd2 G2176851A"}}},
            {"data": {"values": [{"p": "P1"}]}, "mark": {"type": "text", "align": "right", "baseline": "middle", "fontSize": 11, "fontStyle": "italic", "color": "#2aa6df"}, "encoding": {"x": {"datum": 200}, "y": {"datum": 0.62}, "text": {"value": "fps1 G51165T"}}}
           ]
          },
          {
           "width": 147, "height": 149,
           "view": {"stroke": "#6e6e6e"},
           "data": {"name": "b"},
           "layer": [
            {"transform": [{"filter": "datum.s=='ask10 G680827A'"}], "mark": {"type": "line", "color": "#6a88c9", "strokeWidth": 5, "strokeJoin": "round"}, "encoding": {
              "x": {"field": "t", "type": "quantitative", "scale": {"domain": [-10, 233], "nice": false, "zero": false}, "axis": {"values": [0, 50, 100, 150, 200], "tickCount": 20, "labels": false, "tickSize": 4, "tickColor": "#555", "domain": false, "title": null}},
              "y": {"field": "v", "type": "quantitative", "scale": {"domain": [-0.065, 1.05], "nice": false, "zero": false}, "axis": {"values": [0, 0.25, 0.5, 0.75, 1], "tickCount": 20, "labelOverlap": false, "labelExpr": "replace(format(datum.value, '.2f'), '\u2212', '-')", "labelFontSize": 10, "labelColor": "#333", "tickSize": 4, "tickColor": "#555", "domain": false, "title": null, "labelPadding": 2}}}},
            {"data": {"values": [{"p": "P3"}]}, "mark": {"type": "text", "align": "left", "baseline": "middle", "fontSize": 17}, "encoding": {"x": {"datum": -5}, "y": {"datum": 0.95}, "text": {"value": "P3"}}},
            {"data": {"values": [{"p": "P3"}]}, "mark": {"type": "text", "align": "right", "baseline": "middle", "fontSize": 11, "fontStyle": "italic", "color": "#7f99cf"}, "encoding": {"x": {"datum": 227}, "y": {"datum": 0.74}, "text": {"value": "ask10 G680827A"}}}
           ]
          },
          {
           "width": 147, "height": 149,
           "view": {"stroke": "#6e6e6e"},
           "data": {"name": "b"},
           "layer": [
            {"transform": [{"filter": "datum.s=='ACR3 duplication'"}], "mark": {"type": "line", "color": "#000000", "strokeWidth": 5, "strokeJoin": "round"}, "encoding": {
              "x": {"field": "t", "type": "quantitative", "scale": {"domain": [-10, 233], "nice": false, "zero": false}, "axis": {"values": [0, 50, 100, 150, 200], "tickCount": 20, "labelOverlap": false, "format": "d", "labelFontSize": 10, "labelColor": "#333", "tickSize": 4, "tickColor": "#555", "domain": false, "title": null, "labelPadding": 2}},
              "y": {"field": "v", "type": "quantitative", "scale": {"domain": [-0.5, 1.2], "nice": false, "zero": false}, "axis": {"values": [-0.25, 0, 0.25, 0.5, 0.75, 1], "tickCount": 20, "labelOverlap": false, "labelExpr": "replace(format(datum.value, '.2f'), '\u2212', '-')", "labelFontSize": 10, "labelColor": "#333", "tickSize": 4, "tickColor": "#555", "domain": false, "title": null, "labelPadding": 2}}}},
            {"data": {"values": [{"p": "P2"}]}, "mark": {"type": "text", "align": "left", "baseline": "middle", "fontSize": 17}, "encoding": {"x": {"datum": -7}, "y": {"datum": 1.07}, "text": {"value": "P2"}}},
            {"data": {"values": [{"p": "P2"}]}, "mark": {"type": "text", "align": "right", "baseline": "middle", "fontSize": 11, "fontStyle": "italic", "color": "#222"}, "encoding": {"x": {"datum": 226}, "y": {"datum": 0.57}, "text": {"value": "ACR3 duplication"}}}
           ]
          },
          {
           "width": 147, "height": 149,
           "view": {"stroke": "#6e6e6e"},
           "data": {"name": "b"},
           "layer": [
            {"transform": [{"filter": "datum.s=='fps1 G51753T*'"}], "mark": {"type": "line", "color": "#1f9a48", "strokeWidth": 6.5, "strokeJoin": "round"}, "encoding": {
              "x": {"field": "t", "type": "quantitative", "scale": {"domain": [-10, 233], "nice": false, "zero": false}, "axis": {"values": [0, 50, 100, 150, 200], "tickCount": 20, "labelOverlap": false, "format": "d", "labelFontSize": 10, "labelColor": "#333", "tickSize": 4, "tickColor": "#555", "domain": false, "title": null, "labelPadding": 2}},
              "y": {"field": "v", "type": "quantitative", "scale": {"domain": [-0.06, 1.05], "nice": false, "zero": false}, "axis": {"values": [0, 0.25, 0.5, 0.75, 1], "tickCount": 20, "labelOverlap": false, "labelExpr": "replace(format(datum.value, '.2f'), '\u2212', '-')", "labelFontSize": 10, "labelColor": "#333", "tickSize": 4, "tickColor": "#555", "domain": false, "title": null, "labelPadding": 2}}}},
            {"transform": [{"filter": "datum.s=='puf3 G124241T'"}], "mark": {"type": "line", "color": "#f08a22", "strokeWidth": 2, "strokeJoin": "round"}, "encoding": {"x": {"field": "t", "type": "quantitative"}, "y": {"field": "v", "type": "quantitative"}}},
            {"data": {"values": [{"p": "P4"}]}, "mark": {"type": "text", "align": "left", "baseline": "middle", "fontSize": 17}, "encoding": {"x": {"datum": -6}, "y": {"datum": 0.96}, "text": {"value": "P4"}}},
            {"data": {"values": [{"p": "P4"}]}, "mark": {"type": "text", "align": "right", "baseline": "middle", "fontSize": 11, "fontStyle": "italic", "color": "#1f9a4a"}, "encoding": {"x": {"datum": 223}, "y": {"datum": 0.535}, "text": {"value": "fps1 G51753T*"}}},
            {"data": {"values": [{"p": "P4"}]}, "mark": {"type": "text", "align": "right", "baseline": "middle", "fontSize": 11, "fontStyle": "italic", "color": "#ef8a22"}, "encoding": {"x": {"datum": 223}, "y": {"datum": 0.46}, "text": {"value": "puf3 G124241T"}}}
           ]
          }
         ]
        }
       ]
      }
     ]
    },
    {
     "title": {"text": "C", "anchor": "start", "fontSize": 13, "fontWeight": "bold", "offset": 2},
     "spacing": 12,
     "vconcat": [
      {
       "width": 150, "height": 150,
       "data": {"name": "c"},
       "transform": [{"filter": "datum.p=='C1'"}],
       "layer": [
        {"transform": [{"filter": "datum.s=='P4'"}], "mark": {"type": "line", "strokeWidth": 1.6, "color": "#b5cde4"}, "encoding": {
          "x": {"field": "t", "type": "quantitative", "scale": {"domain": [0, 360], "nice": false}, "axis": {"values": [0, 60, 120, 180, 240, 300, 360], "tickCount": 20, "labels": false, "tickSize": 4, "title": null}},
          "y": {"field": "v", "type": "quantitative", "scale": {"domain": [0, 300], "nice": false}, "axis": {"values": [0, 100, 200, 300], "tickCount": 20, "labelOverlap": false, "labelFontSize": 12.5, "tickSize": 4, "labelPadding": 2, "title": "As[III] (nnmol/OD600)", "titleFontSize": 12, "titlePadding": 2}}}},
        {"transform": [{"filter": "datum.s=='P3'"}], "mark": {"type": "line", "strokeWidth": 1.6, "color": "#6b9fd2"}, "encoding": {"x": {"field": "t", "type": "quantitative"}, "y": {"field": "v", "type": "quantitative"}}},
        {"transform": [{"filter": "datum.s=='P2'"}], "mark": {"type": "line", "strokeWidth": 1.6, "color": "#2b7bbf"}, "encoding": {"x": {"field": "t", "type": "quantitative"}, "y": {"field": "v", "type": "quantitative"}}},
        {"transform": [{"filter": "datum.s=='P1'"}], "mark": {"type": "line", "strokeWidth": 1.6, "color": "#1c5c9c"}, "encoding": {"x": {"field": "t", "type": "quantitative"}, "y": {"field": "v", "type": "quantitative"}}},
        {"transform": [{"filter": "datum.s=='WT'"}], "mark": {"type": "line", "strokeWidth": 1.6, "color": "#9a9a9a"}, "encoding": {"x": {"field": "t", "type": "quantitative"}, "y": {"field": "v", "type": "quantitative"}}},
        {"transform": [{"filter": "datum.t > 0"}], "mark": {"type": "errorbar", "ticks": {"size": 4}, "color": "#222"}, "encoding": {"x": {"field": "t", "type": "quantitative", "title": null}, "y": {"field": "v", "type": "quantitative", "title": "As[III] (nnmol/OD600)"}, "yError": {"field": "e"}}},
        {"data": {"values": [{"p": "C1"}]}, "mark": {"type": "text", "align": "left", "baseline": "middle", "fontSize": 13, "color": "#1c5c9c"}, "encoding": {"x": {"datum": 18}, "y": {"datum": 288}, "text": {"value": "P1"}}},
        {"data": {"values": [{"p": "C1"}]}, "mark": {"type": "text", "align": "left", "baseline": "middle", "fontSize": 13, "color": "#2b7bbf"}, "encoding": {"x": {"datum": 18}, "y": {"datum": 262}, "text": {"value": "P2"}}},
        {"data": {"values": [{"p": "C1"}]}, "mark": {"type": "text", "align": "left", "baseline": "middle", "fontSize": 13, "color": "#7aa6d5"}, "encoding": {"x": {"datum": 18}, "y": {"datum": 237}, "text": {"value": "P3"}}},
        {"data": {"values": [{"p": "C1"}]}, "mark": {"type": "text", "align": "left", "baseline": "middle", "fontSize": 13, "color": "#c0d4e8"}, "encoding": {"x": {"datum": 18}, "y": {"datum": 212}, "text": {"value": "P4"}}},
        {"data": {"values": [{"p": "C1"}]}, "mark": {"type": "text", "align": "left", "baseline": "middle", "fontSize": 13, "color": "#9a9a9a"}, "encoding": {"x": {"datum": 18}, "y": {"datum": 188}, "text": {"value": "WT"}}}
       ]
      },
      {
       "width": 150, "height": 150,
       "data": {"name": "c"},
       "transform": [{"filter": "datum.p=='C2'"}],
       "layer": [
        {"transform": [{"filter": "datum.s=='fps1'"}], "mark": {"type": "line", "strokeWidth": 1.6, "color": "#7b5aa6"}, "encoding": {
          "x": {"field": "t", "type": "quantitative", "scale": {"domain": [0, 360], "nice": false}, "axis": {"values": [0, 60, 120, 180, 240, 300, 360], "tickCount": 20, "labelOverlap": false, "labelExpr": "datum.value % 120 == 0 ? datum.label : ''", "labelFontSize": 12.5, "tickSize": 4, "labelPadding": 2, "labelFlush": false, "title": "Time (min)", "titleFontSize": 13, "titlePadding": 2}},
          "y": {"field": "v", "type": "quantitative", "scale": {"domain": [0, 300], "nice": false}, "axis": {"values": [0, 100, 200, 300], "tickCount": 20, "labelOverlap": false, "labelFontSize": 12.5, "tickSize": 4, "labelPadding": 2, "title": null}}}},
        {"transform": [{"filter": "datum.s=='+ACR3'"}], "mark": {"type": "line", "strokeWidth": 1.6, "color": "#e03a3a"}, "encoding": {"x": {"field": "t", "type": "quantitative"}, "y": {"field": "v", "type": "quantitative"}}},
        {"transform": [{"filter": "datum.s=='ask10'"}], "mark": {"type": "line", "strokeWidth": 1.6, "color": "#c5c83a"}, "encoding": {"x": {"field": "t", "type": "quantitative"}, "y": {"field": "v", "type": "quantitative"}}},
        {"transform": [{"filter": "datum.s=='WT'"}], "mark": {"type": "line", "strokeWidth": 1.6, "color": "#9a9a9a"}, "encoding": {"x": {"field": "t", "type": "quantitative"}, "y": {"field": "v", "type": "quantitative"}}},
        {"transform": [{"filter": "datum.s=='WT + empty plasmid'"}], "mark": {"type": "line", "strokeWidth": 1.6, "color": "#000000"}, "encoding": {"x": {"field": "t", "type": "quantitative"}, "y": {"field": "v", "type": "quantitative"}}},
        {"transform": [{"filter": "datum.t > 0"}], "mark": {"type": "errorbar", "ticks": {"size": 4}, "color": "#222"}, "encoding": {"x": {"field": "t", "type": "quantitative", "title": "Time (min)"}, "y": {"field": "v", "type": "quantitative", "title": null}, "yError": {"field": "e"}}},
        {"data": {"values": [{"p": "C2"}]}, "mark": {"type": "text", "align": "left", "baseline": "middle", "fontSize": 13, "color": "#000"}, "encoding": {"x": {"datum": 18}, "y": {"datum": 291}, "text": {"value": "WT + empty plasmid"}}},
        {"data": {"values": [{"p": "C2"}]}, "mark": {"type": "text", "align": "left", "baseline": "middle", "fontSize": 13, "color": "#9a9a9a"}, "encoding": {"x": {"datum": 18}, "y": {"datum": 265}, "text": {"value": "WT"}}},
        {"data": {"values": [{"p": "C2"}]}, "mark": {"type": "text", "align": "left", "baseline": "middle", "fontSize": 13, "fontStyle": "italic", "color": "#c5c83a"}, "encoding": {"x": {"datum": 18}, "y": {"datum": 239}, "text": {"value": "ask10"}}},
        {"data": {"values": [{"p": "C2"}]}, "mark": {"type": "text", "align": "left", "baseline": "middle", "fontSize": 13, "fontStyle": "italic", "color": "#e03a3a"}, "encoding": {"x": {"datum": 18}, "y": {"datum": 213}, "text": {"value": "+ACR3"}}},
        {"data": {"values": [{"p": "C2"}]}, "mark": {"type": "text", "align": "left", "baseline": "middle", "fontSize": 13, "fontStyle": "italic", "color": "#7b5aa6"}, "encoding": {"x": {"datum": 18}, "y": {"datum": 188}, "text": {"value": "fps1"}}}
       ]
      }
     ]
    }
   ]
  }
 ]
}
]
}
